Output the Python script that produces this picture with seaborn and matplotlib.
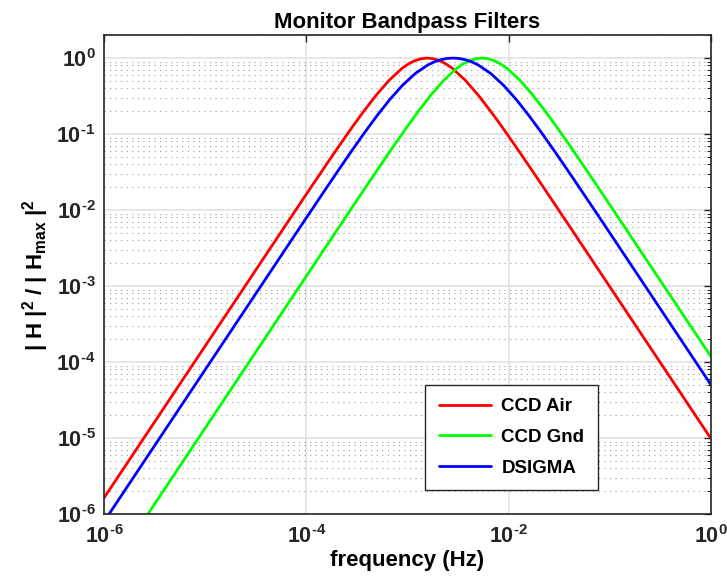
import matplotlib
matplotlib.use("Agg")
import matplotlib.pyplot as plt
import matplotlib.ticker as mticker
from matplotlib import font_manager
import seaborn as sns
import pandas as pd

# ---- data (log-log bandpass responses) ----
ccd_air_freq = [1.0e-6, 4.955e-5, 8.810e-5, 1.175e-4, 1.567e-4, 2.089e-4, 2.786e-4, 3.715e-4,
                4.955e-4, 6.607e-4, 8.810e-4, 1.017e-3, 1.175e-3, 1.357e-3, 1.567e-3, 1.809e-3,
                2.089e-3, 2.413e-3, 2.786e-3, 3.715e-3,
                4.955e-3, 6.607e-3, 8.810e-3, 1.175e-2, 1.567e-2, 2.089e-2, 2.786e-2, 4.955e-2, 1.0]
ccd_air_resp = [1.630e-6, 3.984e-3, 1.257e-2, 2.224e-2, 3.921e-2, 6.867e-2, 0.1189, 0.2016,
                0.3306, 0.5127, 0.7301, 0.8346, 0.9215, 0.9795, 1.0, 0.9795,
                0.9215, 0.8346, 0.7301, 0.5127,
                0.3306, 0.2016, 0.1189, 6.867e-2, 3.921e-2, 2.224e-2, 1.257e-2, 3.984e-3, 9.819e-6]

ccd_gnd_freq = [1.0e-6, 1.718e-4, 3.055e-4, 4.074e-4, 5.432e-4, 7.244e-4, 9.661e-4, 1.288e-3,
                1.718e-3, 2.291e-3, 3.055e-3, 3.528e-3, 4.074e-3, 4.704e-3, 5.432e-3, 6.273e-3,
                7.244e-3, 8.366e-3, 9.661e-3, 1.288e-2,
                1.718e-2, 2.291e-2, 3.055e-2, 4.074e-2, 5.432e-2, 7.244e-2, 9.661e-2, 0.1718, 1.0]
ccd_gnd_resp = [1.355e-7, 3.984e-3, 1.257e-2, 2.224e-2, 3.921e-2, 6.867e-2, 0.1189, 0.2016,
                0.3306, 0.5127, 0.7301, 0.8346, 0.9215, 0.9795, 1.0, 0.9795,
                0.9215, 0.8346, 0.7301, 0.5127,
                0.3306, 0.2016, 0.1189, 6.867e-2, 3.921e-2, 2.224e-2, 1.257e-2, 3.984e-3, 1.180e-4]

dsigma_freq = [1.0e-6, 8.913e-5, 1.585e-4, 2.113e-4, 2.818e-4, 3.758e-4, 5.012e-4, 6.683e-4,
               8.913e-4, 1.189e-3, 1.585e-3, 1.830e-3, 2.113e-3, 2.441e-3, 2.818e-3, 3.255e-3,
               3.758e-3, 4.340e-3, 5.012e-3, 6.683e-3,
               8.913e-3, 1.189e-2, 1.585e-2, 2.113e-2, 2.818e-2, 3.758e-2, 5.012e-2, 8.913e-2, 1.0]
dsigma_resp = [7.943e-7, 6.282e-3, 1.968e-2, 3.464e-2, 6.048e-2, 0.1042, 0.1754, 0.2849,
               0.4379, 0.6240, 0.8101, 0.8885, 0.9488, 0.9870, 1.0, 0.9870,
               0.9488, 0.8885, 0.8101, 0.6240,
               0.4379, 0.2849, 0.1754, 0.1042, 6.048e-2, 3.464e-2, 1.968e-2, 6.282e-3, 5.012e-5]

series_names = ["CCD Air", "CCD Gnd", "DSIGMA"]
series_colors = ["#ff0000", "#00ff00", "#0000ff"]

x_ticks = [1e-6, 1e-4, 1e-2, 1e0]
x_tick_labels = [r"$\mathbf{10^{\text{-}6}}$", r"$\mathbf{10^{\text{-}4}}$",
                 r"$\mathbf{10^{\text{-}2}}$", r"$\mathbf{10^{0}}$"]
y_ticks = [1e-6, 1e-5, 1e-4, 1e-3, 1e-2, 1e-1, 1e0]
y_tick_labels = [r"$\mathbf{10^{\text{-}6}}$", r"$\mathbf{10^{\text{-}5}}$", r"$\mathbf{10^{\text{-}4}}$",
                 r"$\mathbf{10^{\text{-}3}}$", r"$\mathbf{10^{\text{-}2}}$", r"$\mathbf{10^{\text{-}1}}$",
                 r"$\mathbf{10^{0}}$"]

# ---- long table for seaborn ----
frames = []
for name, fx, fy in zip(series_names,
                        [ccd_air_freq, ccd_gnd_freq, dsigma_freq],
                        [ccd_air_resp, ccd_gnd_resp, dsigma_resp]):
    frames.append(pd.DataFrame({"freq": fx, "resp": fy, "filter": name}))
df = pd.concat(frames, ignore_index=True)

# ---- style ----
sns.set_style("white")
names = {f.name for f in font_manager.fontManager.ttflist}
fam = "Liberation Sans Narrow" if "Liberation Sans Narrow" in names else "Liberation Sans"
plt.rcParams["font.family"] = [fam, "DejaVu Sans"]
plt.rcParams["mathtext.fontset"] = "custom"
plt.rcParams["mathtext.rm"] = fam + ":bold"
plt.rcParams["mathtext.bf"] = fam + ":bold"
plt.rcParams["mathtext.it"] = fam + ":bold"
plt.rcParams["mathtext.sf"] = fam + ":bold"
plt.rcParams["text.color"] = "black"
plt.rcParams["axes.labelcolor"] = "black"

fig = plt.figure(figsize=(7.27, 5.77), dpi=100)
ax = fig.add_axes([0.143, 0.109, 0.835, 0.830])

sns.lineplot(data=df, x="freq", y="resp", hue="filter", hue_order=series_names,
             palette=series_colors, estimator=None, sort=False, linewidth=2.0, ax=ax)

ax.set_xscale("log")
ax.set_yscale("log")
ax.set_xlim(1e-6, 1e0)
ax.set_ylim(1e-6, 2.0)

ax.xaxis.set_major_locator(mticker.FixedLocator(x_ticks))
ax.xaxis.set_major_formatter(mticker.FixedFormatter(x_tick_labels))
ax.xaxis.set_minor_locator(mticker.NullLocator())
ax.yaxis.set_major_locator(mticker.FixedLocator(y_ticks))
ax.yaxis.set_major_formatter(mticker.FixedFormatter(y_tick_labels))
ax.yaxis.set_minor_locator(mticker.LogLocator(base=10, subs=range(2, 10), numticks=20))
ax.yaxis.set_minor_formatter(mticker.NullFormatter())

ax.grid(which="major", axis="both", color="#e3e3e3", linewidth=1.3, linestyle="-")
ax.grid(which="minor", axis="y", color="#9a9a9a", linewidth=0.8, linestyle=(0, (1, 4)))
ax.set_axisbelow(True)

for s in ax.spines.values():
    s.set_color("#262626")
    s.set_linewidth(1.2)
ax.tick_params(which="both", direction="in", top=True, right=True, color="#262626",
               labelcolor="#262626")
ax.tick_params(which="major", length=5, width=1.0, labelsize=15.5, pad=6)
ax.tick_params(axis="x", which="major", pad=8)
ax.tick_params(which="minor", length=3, width=0.8)

ax.set_title("Monitor Bandpass Filters", fontsize=16, fontweight="bold", pad=5)
ax.set_xlabel("frequency (Hz)", fontsize=16, fontweight="bold", labelpad=1)
ax.set_ylabel(r"| H |$^{2}$ / | H$_{max}$ |$^{2}$", fontsize=16, fontweight="bold", labelpad=4)

leg = ax.legend(loc="lower left", bbox_to_anchor=(0.529, 0.05), borderaxespad=0,
                frameon=True, fancybox=False, edgecolor="#262626", framealpha=1,
                prop={"weight": "bold", "size": 13.5}, handlelength=2.8, handletextpad=0.55,
                labelspacing=0.72, borderpad=0.72)
leg.get_frame().set_linewidth(1.0)
for line in leg.get_lines():
    line.set_linewidth(2.0)

fig.savefig("out.png", dpi=100)
